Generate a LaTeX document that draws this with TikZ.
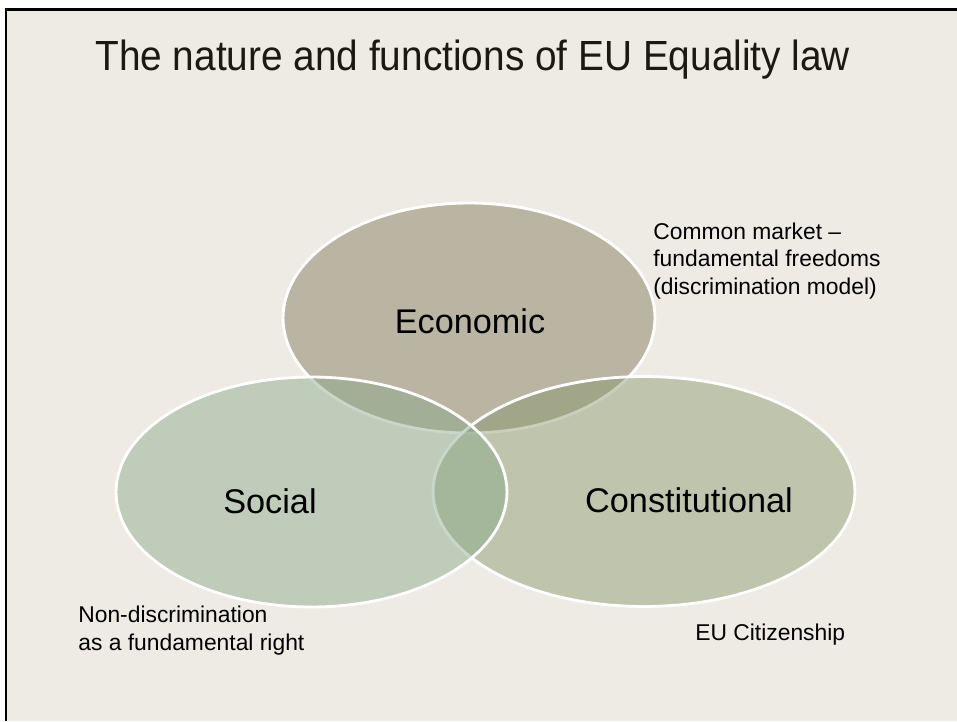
\documentclass[tikz,border=0pt]{standalone}
\usepackage{fontspec}
\setmainfont{Liberation Sans}
\newfontfamily\headfont[FakeStretch=0.92]{Liberation Sans}
\usepackage{tikz}
\usetikzlibrary{shapes}
\definecolor{slidebg}{HTML}{EEEBE4}
\definecolor{headink}{HTML}{1A1A12}
\definecolor{econfill}{HTML}{BAB4A2}
\definecolor{socfill}{HTML}{86A887}
\definecolor{constfill}{HTML}{86976C}

\begin{document}
\begin{tikzpicture}[x=0.02cm, y=0.02cm]
                    \tikzstyle{every node}+=[inner sep=0pt]
                    \tikzstyle{ring}=[ellipse, draw=white, line width=1.6pt, minimum height=4.6cm]
                    \tikzstyle{big}=[anchor=base, font=\fontsize{19.5}{23}\selectfont]
                    \tikzstyle{note}=[align=left, font=\fontsize{13}{15.6}\selectfont]
                    \useasboundingbox (0,0) rectangle (957,-721);
                    % slide background and its frame
                    \fill [slidebg] (6,-9.5) rectangle (957,-721);
                    \draw [black, line width=1.7pt] (957,-9.5) -- (6,-9.5) -- (6,-721);
                    \node (title) at (95,-70) [anchor=base west, text=headink, font=\headfont\fontsize{24}{28}\selectfont] {The nature and functions of EU Equality law};
                    % the three ellipses, back to front
                    \node (econ) at (469,-318) [ring, fill=econfill, minimum width=7.44cm] {};
                    \node (const) at (644,-491.5) [ring, fill=constfill, fill opacity=0.45, minimum width=8.44cm] {};
                    \node (soc) at (311.5,-492) [ring, fill=socfill, fill opacity=0.45, minimum width=7.82cm] {};
                    \node (econlbl) at (470,-333) [big] {Economic};
                    \node (soclbl) at (270,-513) [big] {Social};
                    \node (constlbl) at (689,-512) [big] {Constitutional};
                    % side notes
                    \node (market) at (653,-222.6) [note, anchor=north west] {Common market --\\fundamental freedoms\\(discrimination model)};
                    \node (rights) at (78,-606) [note, anchor=north west] {Non-discrimination\\as a fundamental right};
                    \node (citizen) at (695,-640) [note, anchor=base west] {EU Citizenship};
\end{tikzpicture}
\end{document}
